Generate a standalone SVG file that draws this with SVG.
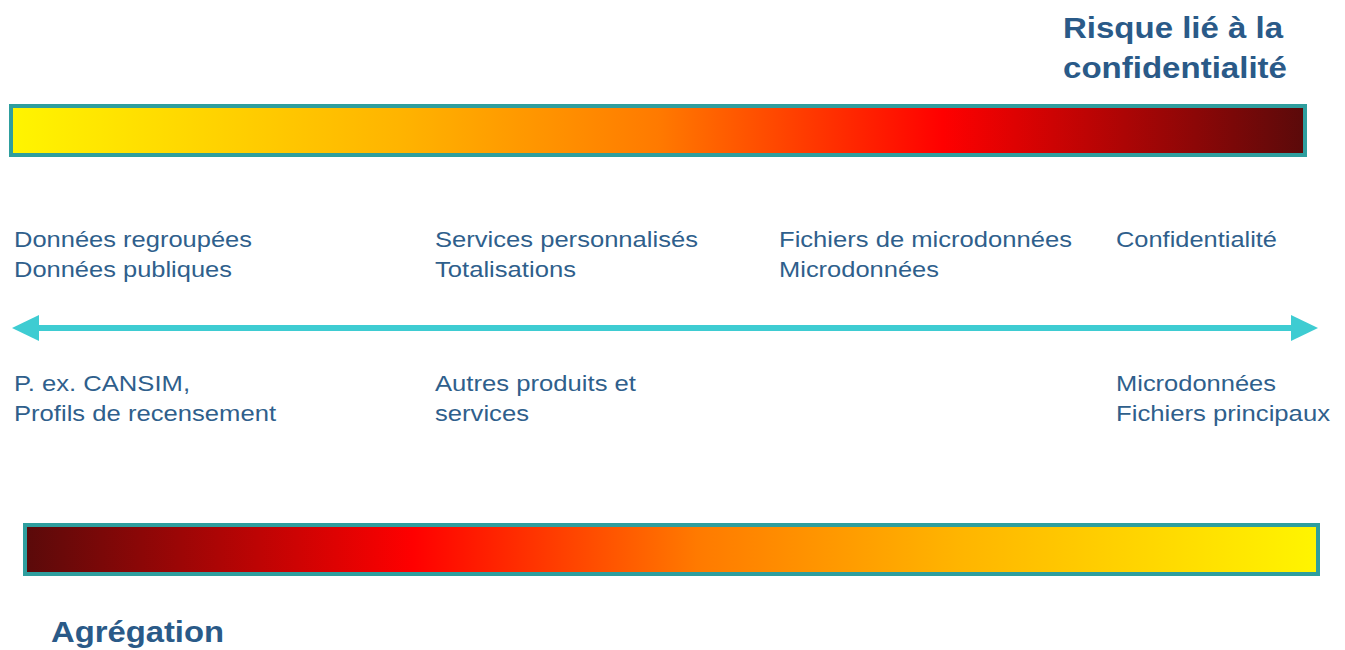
<svg xmlns="http://www.w3.org/2000/svg" width="1345" height="650" viewBox="0 0 1345 650">
<defs>
<linearGradient id="gTop" x1="0" y1="0" x2="1" y2="0">
<stop offset="0" stop-color="#FFF500"/>
<stop offset="0.3" stop-color="#FFB400"/>
<stop offset="0.5" stop-color="#FF7A00"/>
<stop offset="0.72" stop-color="#FF0000"/>
<stop offset="1" stop-color="#5A0A0A"/>
</linearGradient>
<linearGradient id="gBot" x1="0" y1="0" x2="1" y2="0">
<stop offset="0" stop-color="#5A0A0A"/>
<stop offset="0.3" stop-color="#FF0000"/>
<stop offset="0.52" stop-color="#FF7A00"/>
<stop offset="0.72" stop-color="#FFB400"/>
<stop offset="1" stop-color="#FFF500"/>
</linearGradient>
<marker id="ah" markerWidth="27" markerHeight="26" refX="1" refY="13" orient="auto-start-reverse" markerUnits="userSpaceOnUse" viewBox="0 0 27 26">
<path d="M0,0 L27,13 L0,26 Z" fill="#3ECCD2"/>
</marker>
<style>
.bar{stroke:#2E9E9E;stroke-width:4}
.t{font-family:"Liberation Sans",Arial,sans-serif;font-size:22px;fill:#2F5F8C}
.h{font-family:"Liberation Sans",Arial,sans-serif;font-size:30px;font-weight:bold;fill:#2A5A88}
</style>
</defs>
<rect width="1345" height="650" fill="#fff"/>
<g id="title">
<text class="h" x="1063" y="38" textLength="220" lengthAdjust="spacingAndGlyphs">Risque lié à la</text>
<text class="h" x="1063" y="78" textLength="224" lengthAdjust="spacingAndGlyphs">confidentialité</text>
</g>
<g id="bar-top"><rect class="bar" x="11" y="106" width="1294" height="49" fill="url(#gTop)"/></g>
<g id="labels-top">
<text class="t" x="14" y="247" textLength="238" lengthAdjust="spacingAndGlyphs">Données regroupées</text>
<text class="t" x="14" y="277" textLength="218" lengthAdjust="spacingAndGlyphs">Données publiques</text>
<text class="t" x="435" y="247" textLength="263" lengthAdjust="spacingAndGlyphs">Services personnalisés</text>
<text class="t" x="435" y="277" textLength="141" lengthAdjust="spacingAndGlyphs">Totalisations</text>
<text class="t" x="779" y="247" textLength="293" lengthAdjust="spacingAndGlyphs">Fichiers de microdonnées</text>
<text class="t" x="779" y="277" textLength="160" lengthAdjust="spacingAndGlyphs">Microdonnées</text>
<text class="t" x="1116" y="247" textLength="161" lengthAdjust="spacingAndGlyphs">Confidentialité</text>
</g>
<g id="connectors">
<line x1="38" y1="328" x2="1292" y2="328" stroke="#3ECCD2" stroke-width="6" marker-start="url(#ah)" marker-end="url(#ah)"/>
</g>
<g id="labels-bottom">
<text class="t" x="14" y="391" textLength="176" lengthAdjust="spacingAndGlyphs">P. ex. CANSIM,</text>
<text class="t" x="14" y="421" textLength="262" lengthAdjust="spacingAndGlyphs">Profils de recensement</text>
<text class="t" x="435" y="391" textLength="201" lengthAdjust="spacingAndGlyphs">Autres produits et</text>
<text class="t" x="435" y="421" textLength="94" lengthAdjust="spacingAndGlyphs">services</text>
<text class="t" x="1116" y="391" textLength="160" lengthAdjust="spacingAndGlyphs">Microdonnées</text>
<text class="t" x="1116" y="421" textLength="214" lengthAdjust="spacingAndGlyphs">Fichiers principaux</text>
</g>
<g id="bar-bottom"><rect class="bar" x="25" y="525" width="1293" height="49" fill="url(#gBot)"/></g>
<g id="footer">
<text class="h" x="51" y="642" textLength="173" lengthAdjust="spacingAndGlyphs">Agrégation</text>
</g>
</svg>
